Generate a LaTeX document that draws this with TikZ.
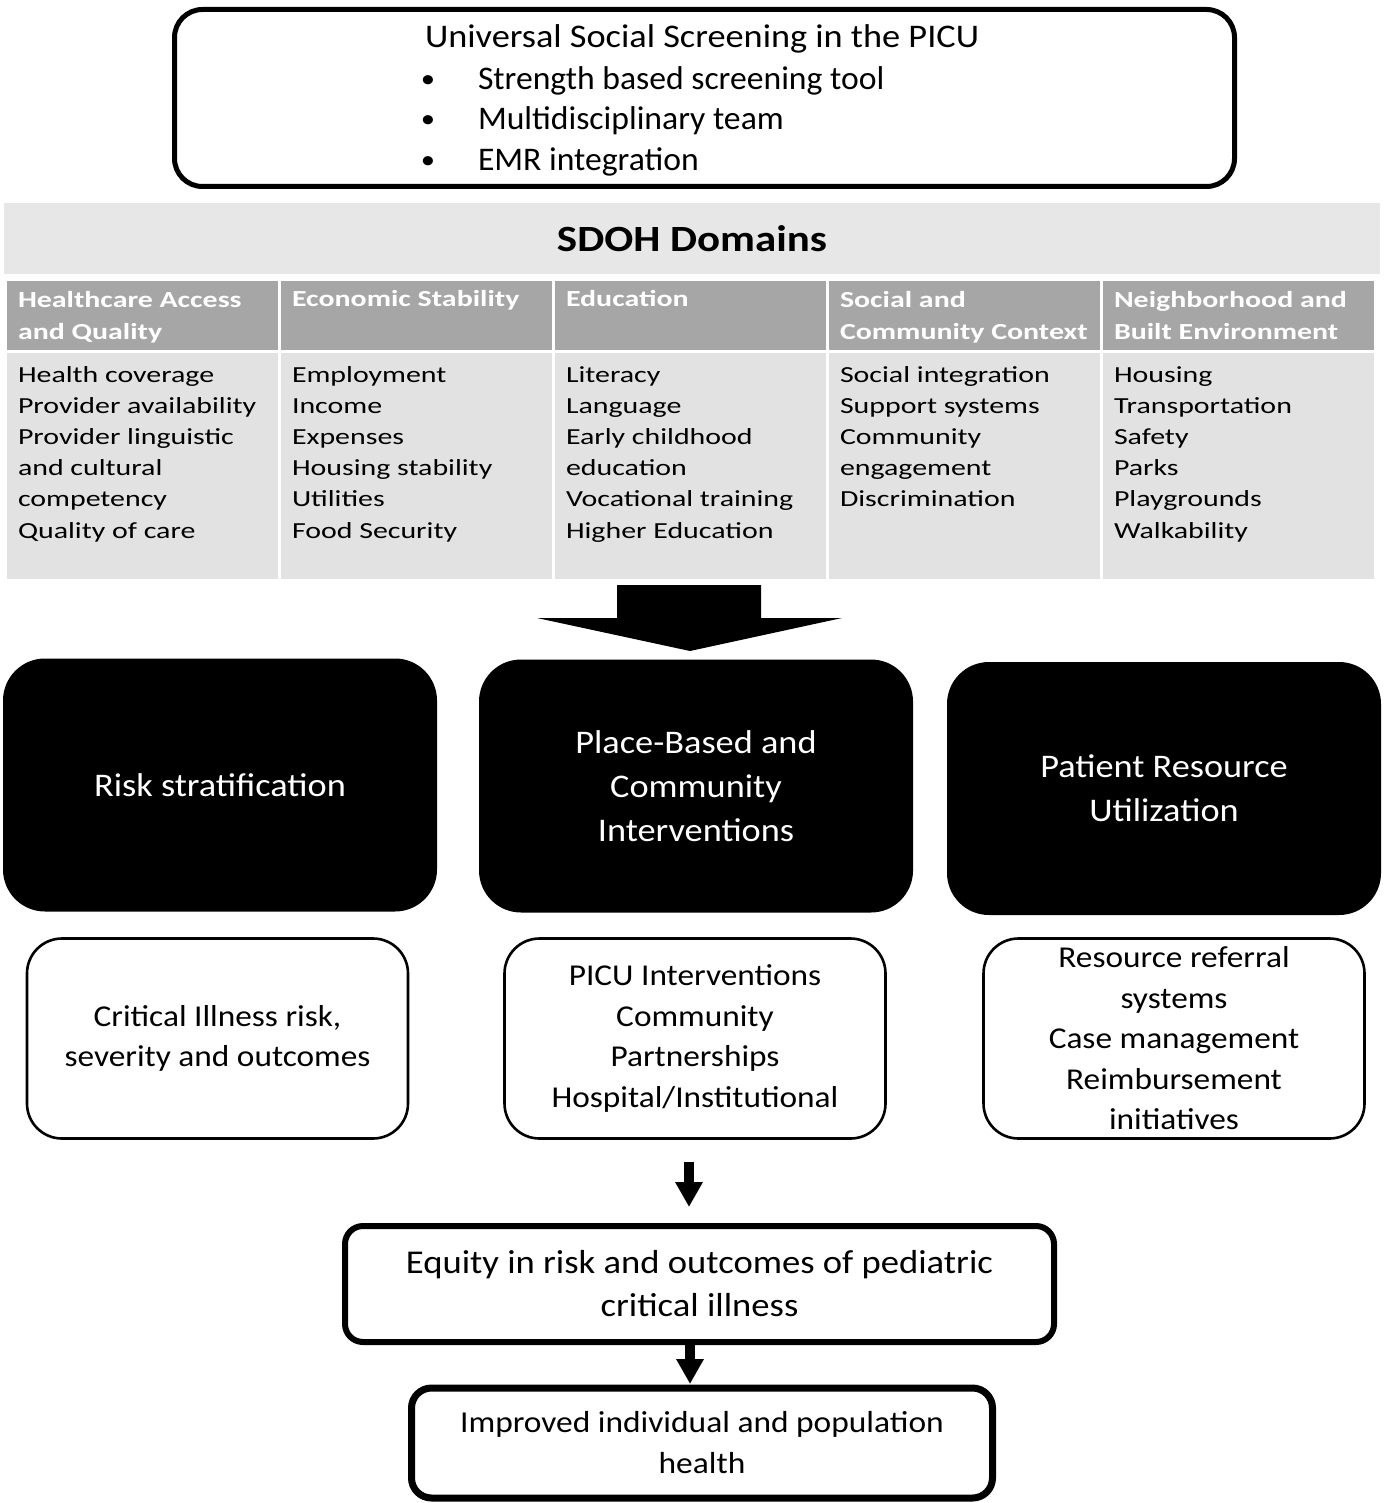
\documentclass[tikz,border=0pt]{standalone}
\usepackage{fontspec}
\setmainfont{Carlito}[FakeStretch=1.1]
\newfontfamily\bulf{Carlito}[FakeStretch=1.02]
\newfontfamily\tabf{Carlito}[FakeStretch=1.3]
\newfontfamily\sdohf{Carlito}[FakeStretch=1.16]
\usetikzlibrary{arrows.meta}
\definecolor{bandgray}{HTML}{E7E7E7}
\definecolor{headgray}{HTML}{A6A6A6}
\definecolor{bodygray}{HTML}{E2E2E2}
\begin{document}
\begin{tikzpicture}[x=1pt,y=-1pt,
  every node/.style={inner sep=0pt, outer sep=0pt},
  topbox/.style={draw, line width=5pt, rounded corners=28pt, minimum width=1060pt, minimum height=177pt},
  toptext/.style={font=\fontsize{33}{40}\selectfont},
  bultext/.style={font=\bulf\fontsize{33}{40}\selectfont},
  bulletdot/.style={font=\fontsize{26}{30}\selectfont},
  band/.style={fill=bandgray, minimum width=1376pt, minimum height=71pt, font=\sdohf\bfseries\fontsize{37}{44}\selectfont},
  hcell/.style={fill=headgray, minimum width=271pt, minimum height=69pt, anchor=north west},
  bcell/.style={fill=bodygray, minimum width=271pt, minimum height=226pt, anchor=north west},
  htext/.style={anchor=north west, align=left, text=white, font=\tabf\bfseries\fontsize{23}{32}\selectfont},
  btext/.style={anchor=north west, align=left, font=\tabf\fontsize{23}{31.2}\selectfont},
  blackbox/.style={fill=black, rounded corners=42pt, minimum width=434pt, minimum height=253pt, text=white, align=center, font=\fontsize{33}{44}\selectfont},
  whitebox/.style={draw, line width=2.6pt, rounded corners=35pt, minimum width=381pt, minimum height=200pt, align=center, font=\fontsize{30.3}{40.5}\selectfont},
  outbox/.style={draw, line width=6pt, rounded corners=18pt, align=center},
  flowarrow/.style={line width=10pt, -{Triangle[width=26pt,length=25pt]}}
]
\useasboundingbox (0,0) rectangle (1383,1503);

% top box
\node[topbox] (top) at (704.5,98) {};
\node[toptext, anchor=base west] (t0) at (425,48) {Universal Social Screening in the PICU};
\node[bulletdot, anchor=base] (bu1) at (428,88) {•};
\node[bultext, anchor=base west] (t1) at (478,90) {Strength based screening tool};
\node[bulletdot, anchor=base] (bu2) at (428,128) {•};
\node[bultext, anchor=base west] (t2) at (478,130) {Multidisciplinary team};
\node[bulletdot, anchor=base] (bu3) at (428,169) {•};
\node[bultext, anchor=base west] (t3) at (478,171) {EMR integration};

% SDOH band
\node[band] (band) at (692,238.5) {SDOH Domains};

% table cells
\foreach \i/\x in {1/7,2/281,3/555,4/829,5/1103}{
  \node[hcell] (h\i) at (\x,281) {};
  \node[bcell] (b\i) at (\x,353) {};
}
\node[htext] (ht1) at ([xshift=11pt,yshift=-3.6pt]h1.north west) {\strut Healthcare Access\\and Quality};
\node[htext] (ht2) at ([xshift=11pt,yshift=-3.6pt]h2.north west) {\strut Economic Stability};
\node[htext] (ht3) at ([xshift=11pt,yshift=-3.6pt]h3.north west) {\strut Education};
\node[htext] (ht4) at ([xshift=11pt,yshift=-3.6pt]h4.north west) {\strut Social and\\Community Context};
\node[htext] (ht5) at ([xshift=11pt,yshift=-3.6pt]h5.north west) {\strut Neighborhood and\\Built Environment};

\node[btext] (bt1) at ([xshift=11pt,yshift=-7.3pt]b1.north west) {\strut Health coverage\\Provider availability\\Provider linguistic\\and cultural\\competency\\Quality of care};
\node[btext] (bt2) at ([xshift=11pt,yshift=-7.3pt]b2.north west) {\strut Employment\\Income\\Expenses\\Housing stability\\Utilities\\Food Security};
\node[btext] (bt3) at ([xshift=11pt,yshift=-7.3pt]b3.north west) {\strut Literacy\\Language\\Early childhood\\education\\Vocational training\\Higher Education};
\node[btext] (bt4) at ([xshift=11pt,yshift=-7.3pt]b4.north west) {\strut Social integration\\Support systems\\Community\\engagement\\Discrimination};
\node[btext] (bt5) at ([xshift=11pt,yshift=-7.3pt]b5.north west) {\strut Housing\\Transportation\\Safety\\Parks\\Playgrounds\\Walkability};

% big block arrow
\fill (617,585) -- (761,585) -- (761,618) -- (842,618) -- (690,651) -- (537,618) -- (617,618) -- cycle;

% black boxes
\node[blackbox] (k1) at (220,785) {Risk stratification};
\node[blackbox] (k2) at (696,786) {Place-Based and\\Community\\Interventions};
\node[blackbox] (k3) at (1164,788.5) {Patient Resource\\Utilization};

% white boxes
\node[whitebox] (w1) at (217.5,1038.5) {Critical Illness risk,\\severity and outcomes};
\node[whitebox] (w2) at (695,1038.5) {PICU Interventions\\Community\\Partnerships\\Hospital/Institutional};
\node[whitebox] (w3) at (1174,1038.5) {Resource referral\\systems\\Case management\\Reimbursement\\initiatives};

% outcome boxes
\node[outbox, minimum width=709pt, minimum height=116pt, font=\fontsize{33.3}{43}\selectfont] (eq) at (699.5,1284) {Equity in risk and outcomes of pediatric\\critical illness};
\node[outbox, line width=7pt, rounded corners=20pt, minimum width=581pt, minimum height=110pt, font=\fontsize{30.4}{41}\selectfont] (impr) at (702,1443) {Improved individual and population\\health};

% arrows
\coordinate (ax) at (689,0);
\coordinate (bx) at (690,0);
\draw[flowarrow, shorten <=23pt, shorten >=19pt] (ax |- w2.south) -- (ax |- eq.north);
\draw[flowarrow, shorten >=4pt] (bx |- eq.south) -- (bx |- impr.north);
\end{tikzpicture}
\end{document}
